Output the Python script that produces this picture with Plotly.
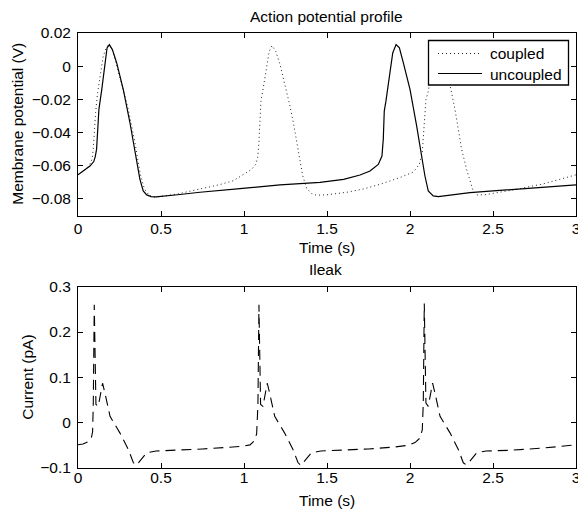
import plotly.graph_objects as go

# ---------------- data ----------------
t_uncoupled = [0.000, 0.032, 0.072, 0.095, 0.104, 0.112, 0.116, 0.120, 0.126, 0.143,
               0.163, 0.175, 0.189, 0.207, 0.233, 0.273, 0.313, 0.343, 0.373, 0.393,
               0.414, 0.440, 0.470, 0.600, 0.735, 0.976, 1.217, 1.458, 1.600, 1.699,
               1.759, 1.809, 1.831, 1.839, 1.845, 1.855, 1.880, 1.896, 1.916, 1.936,
               1.960, 2.000, 2.040, 2.070, 2.090, 2.110, 2.140, 2.171, 2.361, 2.500,
               2.750, 3.000]
v_uncoupled = [-0.0655, -0.0632, -0.0602, -0.0575, -0.0545, -0.0500, -0.0420, -0.0330, -0.0260, -0.0141,
               0.0020, 0.0110, 0.0130, 0.0100, 0.0020, -0.0141, -0.0341, -0.0521, -0.0682, -0.0752,
               -0.0776, -0.0786, -0.0788, -0.0775, -0.0760, -0.0738, -0.0716, -0.0700, -0.0682, -0.0656,
               -0.0632, -0.0592, -0.0542, -0.0441, -0.0271, -0.0211, -0.0040, 0.0080, 0.0130, 0.0110,
               0.0020, -0.0140, -0.0360, -0.0540, -0.0662, -0.0752, -0.0782, -0.0786, -0.0762, -0.0752,
               -0.0735, -0.0716]

t_coupled = [0.000, 0.040, 0.070, 0.085, 0.092, 0.098, 0.106, 0.118, 0.133, 0.152,
             0.173, 0.190, 0.210, 0.243, 0.303, 0.343, 0.375, 0.400, 0.430, 0.460,
             0.500, 0.600, 0.735, 0.850, 0.936, 1.006, 1.046, 1.070, 1.082, 1.090,
             1.093, 1.096, 1.102, 1.116, 1.131, 1.140, 1.152, 1.169, 1.191, 1.217,
             1.247, 1.277, 1.301, 1.321, 1.337, 1.353, 1.378, 1.410, 1.438, 1.500,
             1.619, 1.720, 1.819, 1.940, 2.020, 2.056, 2.074, 2.080, 2.086, 2.096,
             2.110, 2.130, 2.145, 2.165, 2.185, 2.215, 2.245, 2.271, 2.291, 2.311,
             2.341, 2.361, 2.380, 2.400, 2.450, 2.620, 2.800, 3.000]
v_coupled = [-0.0655, -0.0628, -0.0595, -0.0560, -0.0500, -0.0380, -0.0280, -0.0160, -0.0060, 0.0060,
             0.0120, 0.0125, 0.0090, -0.0040, -0.0260, -0.0460, -0.0650, -0.0740, -0.0780, -0.0790,
             -0.0785, -0.0770, -0.0740, -0.0715, -0.0690, -0.0646, -0.0622, -0.0592, -0.0551, -0.0461,
             -0.0381, -0.0291, -0.0211, -0.0131, -0.0040, 0.0040, 0.0090, 0.0124, 0.0090, 0.0010,
             -0.0110, -0.0240, -0.0360, -0.0480, -0.0580, -0.0658, -0.0738, -0.0770, -0.0778, -0.0775,
             -0.0760, -0.0740, -0.0712, -0.0671, -0.0638, -0.0592, -0.0521, -0.0421, -0.0301, -0.0201,
             -0.0151, -0.0040, 0.0060, 0.0125, 0.0090, 0.0010, -0.0131, -0.0261, -0.0381, -0.0501,
             -0.0622, -0.0692, -0.0750, -0.0776, -0.0775, -0.0746, -0.0710, -0.0655]

t_ileak = [0.000, 0.030, 0.060, 0.080, 0.088, 0.092, 0.098, 0.104, 0.108, 0.122,
           0.148, 0.162, 0.193, 0.253, 0.303, 0.333, 0.350, 0.365, 0.414, 0.470,
           0.600, 0.750, 0.900, 0.990, 1.036, 1.062, 1.076, 1.084, 1.090, 1.096,
           1.100, 1.114, 1.140, 1.154, 1.185, 1.245, 1.295, 1.325, 1.342, 1.357,
           1.406, 1.462, 1.600, 1.750, 1.900, 1.985, 2.030, 2.060, 2.074, 2.080,
           2.086, 2.092, 2.096, 2.110, 2.136, 2.150, 2.181, 2.241, 2.291, 2.321,
           2.338, 2.353, 2.402, 2.458, 2.600, 2.800, 3.000]
i_ileak = [-0.0487, -0.0470, -0.0420, -0.0340, -0.0200, 0.0400, 0.2600, 0.0800, 0.0400, 0.0360,
           0.0870, 0.0660, 0.0140, -0.0230, -0.0590, -0.0880, -0.0940, -0.0880, -0.0665, -0.0625,
           -0.0610, -0.0580, -0.0545, -0.0520, -0.0490, -0.0400, -0.0250, 0.0400, 0.2600, 0.0800,
           0.0400, 0.0360, 0.0870, 0.0660, 0.0140, -0.0230, -0.0590, -0.0880, -0.0940, -0.0880,
           -0.0665, -0.0625, -0.0610, -0.0580, -0.0540, -0.0500, -0.0440, -0.0340, -0.0160, 0.0430,
           0.2630, 0.0800, 0.0430, 0.0360, 0.0875, 0.0660, 0.0140, -0.0225, -0.0590, -0.0885,
           -0.0930, -0.0885, -0.0665, -0.0625, -0.0610, -0.0560, -0.0490]

x_ticks = [0, 0.5, 1, 1.5, 2, 2.5, 3]
x_ticktext = ["0", "0.5", "1", "1.5", "2", "2.5", "3"]
v_ticks = [0.02, 0, -0.02, -0.04, -0.06, -0.08]
v_ticktext = ["0.02", "0", "\u22120.02", "\u22120.04", "\u22120.06", "\u22120.08"]
i_ticks = [0.3, 0.2, 0.1, 0, -0.1]
i_ticktext = ["0.3", "0.2", "0.1", "0", "\u22120.1"]
legend_names = ["coupled", "uncoupled"]

# ---------------- figure ----------------
FONT = "Liberation Sans, Arial, Helvetica, sans-serif"
FS = 15.5
W, H = 578, 512
ML, MR, MT, MB = 78, 2, 33, 44
PW, PH = W - ML - MR, H - MT - MB


def px_x(px):
    return (px - ML) / PW


def px_y(py):
    return (H - MB - py) / PH


COUPLED_LINE = dict(color="#222222", width=1, dash="1px,3px")
UNCOUPLED_LINE = dict(color="black", width=1.2)

fig = go.Figure()
fig.add_trace(go.Scatter(x=t_coupled, y=v_coupled, mode="lines", name=legend_names[0],
                         line=COUPLED_LINE, showlegend=False, xaxis="x", yaxis="y"))
fig.add_trace(go.Scatter(x=t_uncoupled, y=v_uncoupled, mode="lines", name=legend_names[1],
                         line=UNCOUPLED_LINE, showlegend=False, xaxis="x", yaxis="y"))
fig.add_trace(go.Scatter(x=t_ileak, y=i_ileak, mode="lines", name="Ileak",
                         line=dict(color="black", width=1.1, dash="10px,6px"),
                         showlegend=False, xaxis="x2", yaxis="y2"))

axis_common = dict(showline=True, linecolor="black", linewidth=1, mirror="allticks",
                   ticks="inside", ticklen=5, tickcolor="black", tickwidth=1,
                   showgrid=False, zeroline=False, automargin=False,
                   tickfont=dict(family=FONT, size=FS, color="black"))

top_lo = px_y(215.5)
bot_hi = px_y(286.7)

fig.update_layout(
    width=W, height=H,
    margin=dict(l=ML, r=MR, t=MT, b=MB, autoexpand=False),
    paper_bgcolor="white", plot_bgcolor="white",
    font=dict(family=FONT, size=FS, color="black"),
    xaxis=dict(domain=[0, 1], range=[0, 3], tickvals=x_ticks, ticktext=x_ticktext,
               anchor="y", ticklabelstandoff=-1, ticklabeloverflow="allow", **axis_common),
    yaxis=dict(domain=[top_lo, 1], range=[-0.09, 0.02], tickvals=v_ticks, ticktext=v_ticktext,
               anchor="x", ticklabelstandoff=3, **axis_common),
    xaxis2=dict(domain=[0, 1], range=[0, 3], tickvals=x_ticks, ticktext=x_ticktext,
                anchor="y2", ticklabelstandoff=-5, ticklabeloverflow="allow", **axis_common),
    yaxis2=dict(domain=[0, bot_hi], range=[-0.1, 0.3], tickvals=i_ticks, ticktext=i_ticktext,
                anchor="x2", ticklabelstandoff=3, **axis_common),
    showlegend=False,
)

# legend box drawn by hand (MATLAB-like compact legend)
fig.add_shape(type="rect", xref="paper", yref="paper",
              x0=px_x(428.5), x1=px_x(568.5), y0=px_y(85), y1=px_y(40.5),
              fillcolor="white", line=dict(color="black", width=1.3), layer="above")
fig.add_shape(type="line", xref="paper", yref="paper",
              x0=px_x(438), x1=px_x(482), y0=px_y(53.5), y1=px_y(53.5),
              line=COUPLED_LINE, layer="above")
fig.add_shape(type="line", xref="paper", yref="paper",
              x0=px_x(438), x1=px_x(482), y0=px_y(73.5), y1=px_y(73.5),
              line=UNCOUPLED_LINE, layer="above")

ann = [
    dict(text="Action potential profile", x=px_x(326.5), y=px_y(16)),
    dict(text="Time (s)", x=px_x(327), y=px_y(248)),
    dict(text="Ileak", x=px_x(325), y=px_y(269)),
    dict(text="Time (s)", x=px_x(327), y=px_y(501)),
    dict(text="Membrane potential (V)", x=px_x(16.7), y=px_y(124), textangle=-90),
    dict(text="Current (pA)", x=px_x(26.7), y=px_y(377), textangle=-90),
]
for a in ann:
    fig.add_annotation(xref="paper", yref="paper", showarrow=False,
                       xanchor="center", yanchor="middle",
                       font=dict(family=FONT, size=FS, color="black"), **a)
for name, py in zip(legend_names, [54, 74]):
    fig.add_annotation(xref="paper", yref="paper", showarrow=False,
                       xanchor="left", yanchor="middle", text=name,
                       x=px_x(488), y=px_y(py),
                       font=dict(family=FONT, size=FS, color="black"))

fig.write_html("out.html", config={"displayModeBar": False},
               post_script="document.body.style.margin='0';")
